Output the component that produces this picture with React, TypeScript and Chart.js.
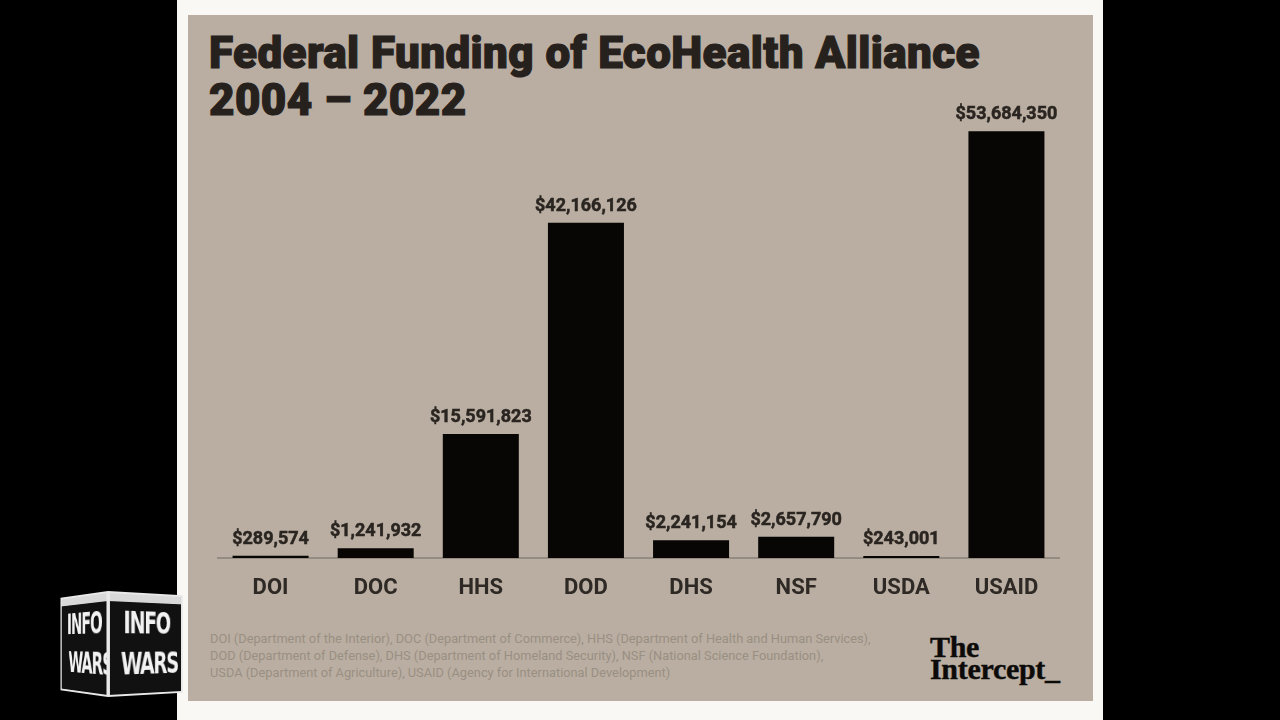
import React, { useEffect, useRef } from "react";
import { Chart, registerables } from "chart.js";

Chart.register(...registerables);

const categories = ["DOI", "DOC", "HHS", "DOD", "DHS", "NSF", "USDA", "USAID"];
const funding = [289574, 1241932, 15591823, 42166126, 2241154, 2657790, 243001, 53684350];
const titleLines = ["Federal Funding of EcoHealth Alliance", "2004 – 2022"];
const footnoteLines = [
  "DOI (Department of the Interior), DOC (Department of Commerce), HHS (Department of Health and Human Services),",
  "DOD (Department of Defense), DHS (Department of Homeland Security), NSF (National Science Foundation),",
  "USDA (Department of Agriculture), USAID (Agency for International Development)",
];
const logoLines = ["The", "Intercept_"];
const yMax = 60000000;

const valueLabels = {
  id: "valueLabels",
  afterDatasetsDraw(chart: any) {
    const ctx = chart.ctx;
    const meta = chart.getDatasetMeta(0);
    const data = chart.data.datasets[0].data as number[];
    ctx.save();
    ctx.font = "bold 18px Roboto";
    ctx.fillStyle = "#2a2521";
    ctx.strokeStyle = "#2a2521";
    ctx.lineWidth = 0.5;
    ctx.textAlign = "center";
    ctx.textBaseline = "alphabetic";
    meta.data.forEach((bar: any, i: number) => {
      const txt = "$" + data[i].toLocaleString("en-US");
      ctx.fillText(txt, bar.x, bar.y - 12);
      ctx.strokeText(txt, bar.x, bar.y - 12);
    });
    ctx.restore();
  },
};

function InfowarsLogo() {
  const face = (w: number, origin: string, rot: number): React.CSSProperties => ({
    position: "absolute",
    top: 0,
    width: w,
    height: 106,
    background: "linear-gradient(#d8d8d8 0 8%, #111 8% 100%)",
    border: "2px solid #e8e8e8",
    boxSizing: "border-box",
    transformOrigin: origin,
    transform: `rotateY(${rot}deg)`,
    color: "#f2f2f2",
    fontFamily: "'DejaVu Sans Condensed', 'DejaVu Sans', sans-serif",
    fontWeight: 700,
    fontSize: 32,
    lineHeight: "42px",
    paddingTop: 8,
    textAlign: "center",
    overflow: "hidden",
    whiteSpace: "nowrap",
  });
  const txt: React.CSSProperties = { display: "inline-block", transform: "scaleX(0.74)", letterSpacing: -2 };
  return (
    <div style={{ position: "absolute", left: 58, top: 591, width: 130, height: 106, perspective: 300 }}>
      <div style={{ ...face(72, "right center", -38), left: -22 }}>
        <div><span style={txt}>INFO</span></div>
        <div><span style={txt}>WARS</span></div>
      </div>
      <div style={{ ...face(84, "left center", 18), left: 50 }}>
        <div><span style={txt}>INFO</span></div>
        <div><span style={txt}>WARS</span></div>
      </div>
    </div>
  );
}

export default function App() {
  const canvasRef = useRef<HTMLCanvasElement | null>(null);

  useEffect(() => {
    if (!canvasRef.current) return;
    const chart = new Chart(canvasRef.current, {
      type: "bar",
      data: {
        labels: categories,
        datasets: [
          {
            data: funding,
            backgroundColor: "#070605",
            categoryPercentage: 1,
            barPercentage: 0.723,
          },
        ],
      },
      options: {
        responsive: false,
        animation: false,
        devicePixelRatio: 1,
        layout: { padding: { left: 30, right: 34, top: 21, bottom: 0 } },
        plugins: {
          legend: { display: false },
          tooltip: { enabled: false },
          title: { display: false },
        },
        scales: {
          x: {
            grid: { display: false, drawTicks: false },
            border: { display: true, color: "#958c81", width: 2 },
            ticks: {
              color: "#2e2925",
              font: { family: "Roboto", weight: "bold", size: 22 },
              padding: 17,
            },
            afterFit: (s: any) => {
              s.height = 62;
            },
          },
          y: {
            display: false,
            min: 0,
            max: yMax,
          },
        },
      },
      plugins: [valueLabels],
    });
    return () => chart.destroy();
  }, []);

  return (
    <div style={{ position: "fixed", left: 0, top: 0, width: 1280, height: 720, background: "#000", overflow: "hidden" }}>
      <div style={{ position: "absolute", left: 177, top: 0, width: 926, height: 720, background: "#f9f8f5" }} />
      <div style={{ position: "absolute", left: 188, top: 15, width: 905, height: 686, background: "#b9aea1" }} />
      <div
        style={{
          position: "absolute",
          left: 209,
          top: 30,
          fontFamily: "Roboto, sans-serif",
          fontWeight: 900,
          fontSize: 44,
          lineHeight: "47px",
          color: "#27211d",
          letterSpacing: 0.4,
          WebkitTextStroke: "1.2px #27211d",
          whiteSpace: "nowrap",
        }}
      >
        {titleLines.map((t) => (
          <div key={t}>{t}</div>
        ))}
      </div>
      <canvas
        ref={canvasRef}
        width={905}
        height={560}
        style={{ position: "absolute", left: 188, top: 60, width: 905, height: 560 }}
      />
      <div
        style={{
          position: "absolute",
          left: 210,
          top: 630,
          fontFamily: "Roboto, sans-serif",
          fontSize: 12.8,
          lineHeight: "17px",
          color: "#998f83",
          whiteSpace: "nowrap",
        }}
      >
        {footnoteLines.map((t) => (
          <div key={t}>{t}</div>
        ))}
      </div>
      <div
        style={{
          position: "absolute",
          left: 930,
          top: 636,
          fontFamily: "'Liberation Serif', serif",
          fontWeight: 700,
          fontSize: 30,
          lineHeight: "22px",
          letterSpacing: -0.3,
          color: "#0d0b0a",
          WebkitTextStroke: "0.4px #0d0b0a",
          whiteSpace: "nowrap",
        }}
      >
        {logoLines.map((t) => (
          <div key={t}>{t}</div>
        ))}
      </div>
      <InfowarsLogo />
    </div>
  );
}
